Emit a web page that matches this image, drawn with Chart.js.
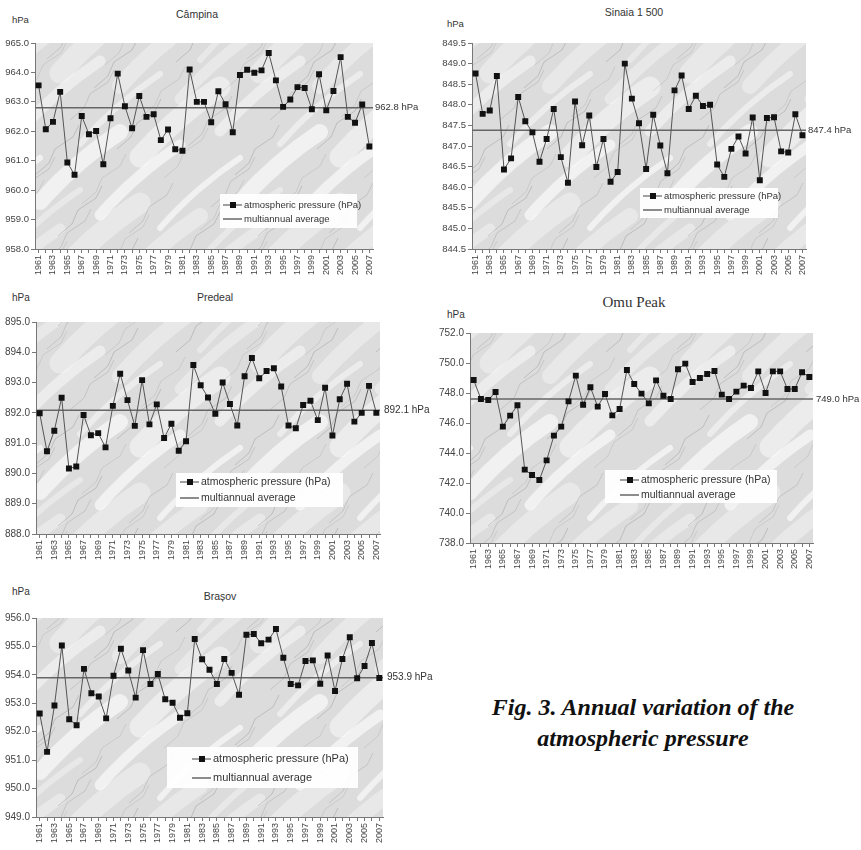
<!DOCTYPE html>
<html>
<head>
<meta charset="utf-8">
<script src="https://cdn.jsdelivr.net/npm/chart.js@4.4.1/dist/chart.umd.min.js"></script>
<style>
  body { margin: 0; width: 861px; height: 850px; background: #fff; position: relative; overflow: hidden;
         font-family: "Liberation Sans", Arial, sans-serif; }
  canvas { position: absolute; }
  .lbl { position: absolute; white-space: nowrap; color: #333; font-size: 10.5px; line-height: 12px; }
  .ttl { transform: translateX(-50%); }
  .omu { font-family: "Liberation Serif", "Times New Roman", serif; font-size: 15px; line-height: 16px; color: #333; }
  #caption { position: absolute; left: 443px; top: 692px; width: 400px; text-align: center;
             font-family: "Liberation Serif", "Times New Roman", serif; font-weight: bold; font-style: italic;
             font-size: 24px; line-height: 31px; color: #111; }
</style>
</head>
<body>
<div class="lbl ttl" style="left:197px; top:8px;">Câmpina</div>
<div class="lbl ttl" style="left:634px; top:6px;">Sinaia 1 500</div>
<div class="lbl ttl" style="left:215px; top:291px;">Predeal</div>
<div class="lbl ttl omu" style="left:634px; top:294px;">Omu Peak</div>
<div class="lbl ttl" style="left:220px; top:590px;">Brașov</div>
<div class="lbl" style="left:12px; top:14px; font-size:9.5px;">hPa</div>
<div class="lbl" style="left:447px; top:18px; font-size:9.5px;">hPa</div>
<div class="lbl" style="left:12px; top:292px; font-size:10px;">hPa</div>
<div class="lbl" style="left:447px; top:309px; font-size:10px;">hPa</div>
<div class="lbl" style="left:12px; top:586px; font-size:10px;">hPa</div>
<div id="caption">Fig. 3. Annual variation of the<br>atmospheric pressure</div>

<script>
// years on the x axis
const years = ['1961', '1962', '1963', '1964', '1965', '1966', '1967', '1968', '1969', '1970',
  '1971', '1972', '1973', '1974', '1975', '1976', '1977', '1978', '1979', '1980',
  '1981', '1982', '1983', '1984', '1985', '1986', '1987', '1988', '1989', '1990',
  '1991', '1992', '1993', '1994', '1995', '1996', '1997', '1998', '1999', '2000',
  '2001', '2002', '2003', '2004', '2005', '2006', '2007'];

// annual pressure (hPa) per station
const campina = [963.56, 962.07, 962.32, 963.34, 960.94, 960.52, 962.52, 961.90, 962.01, 960.88,
  962.44, 963.96, 962.85, 962.10, 963.20, 962.49, 962.58, 961.70, 962.06, 961.39,
  961.34, 964.10, 963.00, 963.00, 962.31, 963.36, 962.92, 961.97, 963.91, 964.09,
  963.99, 964.07, 964.66, 963.73, 962.83, 963.08, 963.50, 963.47, 962.75, 963.94,
  962.71, 963.37, 964.52, 962.49, 962.29, 962.91, 961.48];
const sinaia = [848.76, 847.78, 847.86, 848.70, 846.43, 846.70, 848.19, 847.60, 847.33, 846.62,
  847.17, 847.90, 846.73, 846.11, 848.08, 847.02, 847.74, 846.49, 847.17, 846.13,
  846.37, 849.00, 848.15, 847.55, 846.44, 847.76, 847.01, 846.34, 848.35, 848.71,
  847.90, 848.22, 847.97, 848.00, 846.55, 846.25, 846.93, 847.23, 846.82, 847.69,
  846.17, 847.68, 847.70, 846.87, 846.84, 847.77, 847.26];
const predeal = [891.99, 890.73, 891.41, 892.50, 890.16, 890.23, 891.93, 891.26, 891.33, 890.86,
  892.23, 893.29, 892.42, 891.57, 893.08, 891.62, 892.28, 891.17, 891.64, 890.75,
  891.06, 893.58, 892.91, 892.51, 891.97, 893.00, 892.29, 891.58, 893.21, 893.81,
  893.14, 893.38, 893.47, 892.87, 891.58, 891.49, 892.26, 892.40, 891.76, 892.83,
  891.25, 892.45, 892.96, 891.71, 892.00, 892.89, 892.00];
const omu = [748.87, 747.60, 747.53, 748.07, 745.76, 746.49, 747.18, 742.89, 742.53, 742.20,
  743.51, 745.16, 745.76, 747.44, 749.16, 747.22, 748.38, 747.09, 747.93, 746.51,
  746.93, 749.53, 748.60, 747.96, 747.31, 748.84, 747.82, 747.60, 749.58, 749.96,
  748.73, 749.00, 749.27, 749.47, 747.89, 747.60, 748.09, 748.49, 748.33, 749.44,
  748.00, 749.44, 749.44, 748.27, 748.27, 749.38, 749.07];
const brasov = [952.64, 951.29, 952.92, 955.03, 952.44, 952.23, 954.21, 953.35, 953.24, 952.47,
  953.97, 954.92, 954.15, 953.20, 954.87, 953.68, 954.03, 953.14, 953.02, 952.49,
  952.65, 955.26, 954.55, 954.18, 953.68, 954.56, 954.07, 953.30, 955.41, 955.44,
  955.11, 955.24, 955.61, 954.60, 953.68, 953.63, 954.49, 954.51, 953.69, 954.68,
  953.43, 954.56, 955.32, 953.88, 954.31, 955.12, 953.89];

// multiannual averages (line level) and the text printed next to them
const averages = [962.8, 847.38, 892.09, 747.6, 953.9];
const avgTexts = ['962.8 hPa', '847.4 hPa', '892.1 hPa', '749.0 hPa', '953.9 hPa'];

const legendTexts = ['atmospheric pressure (hPa)', 'multiannual average'];

// marble-ish texture for the plot area, drawn wrapped so the tile repeats without seams
function makeMarble() {
  const S = 200;
  const c = document.createElement('canvas');
  c.width = S; c.height = S;
  const g = c.getContext('2d');
  g.fillStyle = '#dcdcdc';
  g.fillRect(0, 0, S, S);
  function wrapped(draw) {
    for (let dx = -S; dx <= S; dx += S) {
      for (let dy = -S; dy <= S; dy += S) {
        g.save(); g.translate(dx, dy); draw(); g.restore();
      }
    }
  }
  // soft white patches running lower-left to upper-right
  for (let i = 0; i < 10; i++) {
    const x = i * 20, y = (i * 71) % S;
    const w = 6 + (i % 4) * 5;
    wrapped(function () {
      g.strokeStyle = 'rgba(255,255,255,' + (0.35 + (i % 3) * 0.12) + ')';
      g.lineWidth = w;
      g.lineCap = 'round';
      g.beginPath();
      g.moveTo(x, y + 60);
      g.quadraticCurveTo(x + 35, y + 20, x + 80, y - 10);
      g.stroke();
    });
  }
  // thin grey veins
  for (let i = 0; i < 16; i++) {
    const x = (i * 47) % S, y = (i * 29) % S;
    wrapped(function () {
      g.strokeStyle = 'rgba(105,105,105,' + (0.2 + (i % 3) * 0.07) + ')';
      g.lineWidth = 0.8;
      g.beginPath();
      g.moveTo(x, y + 30);
      g.lineTo(x + 14, y + 18);
      g.lineTo(x + 20, y + 4);
      g.lineTo(x + 38, y - 8);
      g.lineTo(x + 44, y - 20);
      g.stroke();
    });
  }
  return c;
}
const marbleCanvas = makeMarble();

const stationPlugin = {
  id: 'station',
  beforeDraw(chart) {
    const { ctx, chartArea: a } = chart;
    ctx.save();
    ctx.fillStyle = ctx.createPattern(marbleCanvas, 'repeat');
    ctx.fillRect(a.left, a.top, a.right - a.left, a.bottom - a.top);
    ctx.restore();
  },
  beforeDatasetsDraw(chart, args, o) {
    const { ctx, chartArea: a, scales: { y } } = chart;
    const py = y.getPixelForValue(o.avg);
    ctx.save();
    ctx.strokeStyle = '#666';
    ctx.lineWidth = 1.5;
    ctx.beginPath();
    ctx.moveTo(a.left, py);
    ctx.lineTo(a.right, py);
    ctx.stroke();
    ctx.restore();
  },
  afterDatasetsDraw(chart, args, o) {
    const { ctx, chartArea: a, scales: { y } } = chart;
    const py = y.getPixelForValue(o.avg);
    ctx.save();
    ctx.font = o.labelFs + 'px "Liberation Sans", Arial, sans-serif';
    ctx.fillStyle = '#333';
    ctx.textBaseline = 'middle';
    ctx.fillText(o.avgText, a.right + o.gap, py);

    // legend box
    const L = o.legend;
    ctx.fillStyle = 'rgba(255,255,255,0.93)';
    ctx.fillRect(L.x, L.y, L.w, L.h);
    ctx.font = L.font + 'px "Liberation Sans", Arial, sans-serif';
    ctx.strokeStyle = '#444';
    ctx.lineWidth = 1;
    ctx.beginPath();
    ctx.moveTo(L.lx, L.y1); ctx.lineTo(L.lx + 19, L.y1);
    ctx.stroke();
    ctx.fillStyle = '#111';
    ctx.fillRect(L.lx + 7, L.y1 - 3, 6, 6);
    ctx.strokeStyle = '#666';
    ctx.lineWidth = 1.5;
    ctx.beginPath();
    ctx.moveTo(L.lx, L.y2); ctx.lineTo(L.lx + 19, L.y2);
    ctx.stroke();
    ctx.fillStyle = '#333';
    ctx.fillText(legendTexts[0], L.lx + 21, L.y1);
    ctx.fillText(legendTexts[1], L.lx + 21, L.y2);
    ctx.restore();
  }
};

// layout of each panel (page position, plot area inside the canvas, legend box)
const panels = [
  { values: campina, left: 0, top: 0, w: 430, h: 290, area: { l: 35, t: 43, r: 373, b: 249 },
    yMin: 958, yMax: 965, step: 1, fs: 9.5, labelFs: 9.5, gap: 2,
    legend: { x: 220, y: 194, w: 137, h: 34, lx: 223, y1: 205, y2: 219, font: 9.5 } },
  { values: sinaia, left: 430, top: 0, w: 431, h: 290, area: { l: 42, t: 43, r: 376, b: 249 },
    yMin: 844.5, yMax: 849.5, step: 0.5, fs: 9.5, labelFs: 9.5, gap: 2,
    legend: { x: 210, y: 188, w: 138, h: 30, lx: 213, y1: 196, y2: 210, font: 9.5 } },
  { values: predeal, left: 0, top: 290, w: 440, h: 285, area: { l: 36, t: 32, r: 380, b: 244 },
    yMin: 888, yMax: 895, step: 1, fs: 10, labelFs: 10, gap: 4,
    legend: { x: 176, y: 183, w: 167, h: 34, lx: 180, y1: 192, y2: 208, font: 10.5 } },
  { values: omu, left: 430, top: 290, w: 431, h: 295, area: { l: 40, t: 43, r: 383, b: 253 },
    yMin: 738, yMax: 752, step: 2, fs: 10, labelFs: 9.5, gap: 3,
    legend: { x: 175, y: 180, w: 172, h: 33, lx: 190, y1: 190, y2: 205, font: 10.5 } },
  { values: brasov, left: 0, top: 570, w: 440, h: 280, area: { l: 36, t: 48, r: 383, b: 247 },
    yMin: 949, yMax: 956, step: 1, fs: 10, labelFs: 10, gap: 4,
    legend: { x: 167, y: 177, w: 191, h: 41, lx: 192, y1: 189, y2: 208, font: 11 } }
];

panels.forEach(function (p, k) {
  const cv = document.createElement('canvas');
  cv.width = p.w; cv.height = p.h;
  cv.style.left = p.left + 'px';
  cv.style.top = p.top + 'px';
  cv.style.width = p.w + 'px';
  cv.style.height = p.h + 'px';
  document.body.appendChild(cv);
  const a = p.area;
  new Chart(cv.getContext('2d'), {
    type: 'line',
    data: {
      labels: years,
      datasets: [{
        data: p.values,
        borderColor: '#555',
        borderWidth: 1,
        tension: 0,
        pointStyle: 'rect',
        pointRadius: 4.2,
        pointBackgroundColor: '#111',
        pointBorderColor: '#111',
        pointBorderWidth: 0
      }]
    },
    options: {
      responsive: false,
      animation: false,
      events: [],
      layout: { padding: { left: 0, top: a.t, right: p.w - a.r, bottom: 0 } },
      plugins: {
        legend: { display: false },
        tooltip: { enabled: false },
        station: { avg: averages[k], avgText: avgTexts[k], labelFs: p.labelFs, gap: p.gap, legend: p.legend }
      },
      scales: {
        x: {
          offset: true,
          grid: { drawOnChartArea: false, offset: false, tickLength: 4, color: '#777' },
          border: { color: '#777' },
          ticks: {
            autoSkip: false, maxRotation: 90, minRotation: 90, padding: 2,
            color: '#444', font: { size: 9, family: '"Liberation Sans", Arial, sans-serif' },
            callback: function (v, i) { return i % 2 === 0 ? years[i] : ''; }
          },
          afterFit: function (s) { s.height = p.h - a.b; }
        },
        y: {
          min: p.yMin, max: p.yMax,
          grid: { drawOnChartArea: false, tickLength: 4, color: '#777' },
          border: { color: '#777' },
          ticks: {
            stepSize: p.step, padding: 2, color: '#444',
            font: { size: p.fs, family: '"Liberation Sans", Arial, sans-serif' },
            callback: function (v) { return v.toFixed(1); }
          },
          afterFit: function (s) { s.width = a.l; }
        }
      }
    },
    plugins: [stationPlugin]
  });
});
</script>
</body>
</html>
